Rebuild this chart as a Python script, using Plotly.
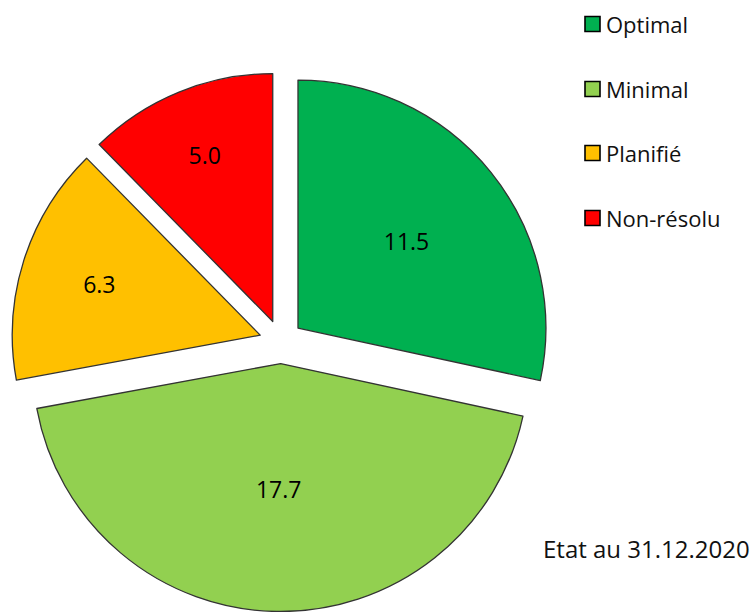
import plotly.graph_objects as go

labels = ["Optimal", "Minimal", "Planifié", "Non-résolu"]
values = [11.5, 17.7, 6.3, 5.0]
colors = ["#00B050", "#92D050", "#FFC000", "#FF0000"]
note = "Etat au 31.12.2020"

FONT = "Open Sans"
W, H = 751, 612

fig = go.Figure()
fig.add_trace(go.Pie(
    labels=labels,
    values=values,
    sort=False,
    direction="clockwise",
    rotation=0,
    pull=[0.088] * len(values),
    marker=dict(colors=colors, line=dict(color="#333333", width=1.3)),
    textinfo="value",
    texttemplate="%{value:.1f}",
    textposition="inside",
    insidetextorientation="horizontal",
    textfont=dict(family=FONT, size=23, color="#000000"),
    showlegend=False,
    domain=dict(x=[11 / W, 551 / W], y=[1 - 611.5 / H, 1 - 72 / H]),
    hoverinfo="label+value",
))

# Manual legend (squares + real text)
legend_y = [24, 89, 153, 218]
shapes = []
annotations = []
for lab, col, yc in zip(labels, colors, legend_y):
    shapes.append(dict(
        type="rect", xref="paper", yref="paper",
        x0=585 / W, x1=600 / W, y0=1 - (yc + 7.5) / H, y1=1 - (yc - 7.5) / H,
        fillcolor=col, line=dict(color="#000000", width=1.6),
    ))
    annotations.append(dict(
        text=lab, xref="paper", yref="paper", x=604 / W, y=1 - yc / H,
        xanchor="left", yanchor="middle", showarrow=False,
        font=dict(family=FONT, size=22, color="#111111"),
    ))

annotations.append(dict(
    text=note, xref="paper", yref="paper", x=752 / W, y=1 - 548 / H,
    xanchor="right", yanchor="middle", showarrow=False,
    font=dict(family=FONT, size=24, color="#111111"),
))

fig.update_layout(
    width=W, height=H,
    margin=dict(l=0, r=0, t=0, b=0),
    paper_bgcolor="white",
    plot_bgcolor="white",
    shapes=shapes,
    annotations=annotations,
)

fig.write_html(
    "out.html",
    config={"displayModeBar": False},
    post_script="document.body.style.margin='0';document.body.style.overflow='hidden';",
)
